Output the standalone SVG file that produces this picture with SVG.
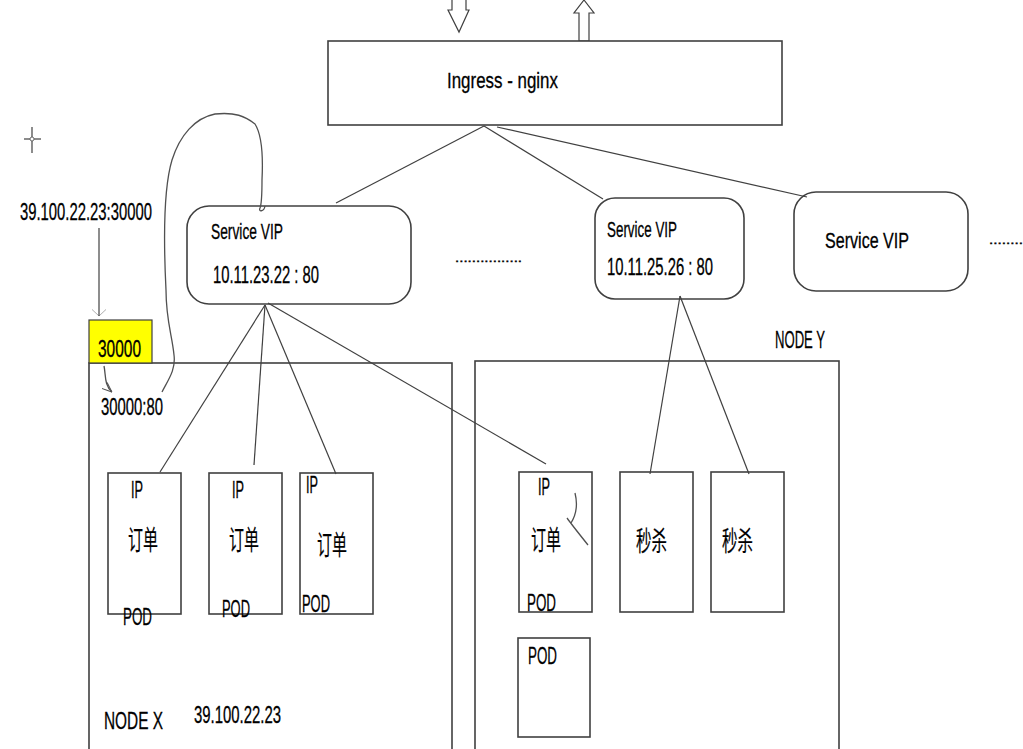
<svg xmlns="http://www.w3.org/2000/svg" width="1023" height="749" viewBox="0 0 1023 749">
<style>
.box{fill:#fff;stroke:#404040;stroke-width:1.6}
.frame{fill:none;stroke:#404040;stroke-width:1.6}
.ln{fill:none;stroke:#404040;stroke-width:1.2}
.hand{fill:none;stroke:#505050;stroke-width:1.3}
text{font-family:"Liberation Sans","Noto Sans CJK SC",sans-serif;font-size:24px;fill:#000;stroke:#000;stroke-width:0.3}
.sm{font-size:22.5px}
.cjk{font-family:"Noto Sans CJK SC",sans-serif;font-size:27px;stroke-width:0.2}
.dot{font-size:12px;stroke-width:0.4}
</style>
<defs>
<marker id="open" viewBox="0 0 10 10" refX="10" refY="5" markerWidth="10" markerHeight="10" orient="auto" markerUnits="userSpaceOnUse">
<path d="M0,1 L10,5 L0,9" fill="none" stroke="#505050" stroke-width="1"/>
</marker>
<marker id="vopen" viewBox="0 0 14 30" refX="14" refY="15" markerWidth="30" markerHeight="14" orient="auto" markerUnits="userSpaceOnUse">
<path d="M0,0 L14,15 L0,30" fill="none" stroke="#505050" stroke-width="1"/>
</marker>
</defs>
<rect width="1023" height="749" fill="#fff"/>

<g id="io-arrows">
<path d="M452,0 L452,10 L448,10 L459,32 L469,10 L466,10 L466,0" fill="#fff" stroke="#404040" stroke-width="1.2"/>
<path d="M579,41 L579,13 L574,13 L584,0 L594,13 L589,13 L589,41 Z" fill="#fff" stroke="#404040" stroke-width="1.2"/>
</g>

<g id="ingress">
<rect class="box" x="328" y="41" width="454" height="84"/>
<text class="sm" x="447" y="88" textLength="111" lengthAdjust="spacingAndGlyphs">Ingress - nginx</text>
</g>

<g id="vip1">
<rect class="box" x="187" y="206" width="224" height="98" rx="22"/>
<text class="sm" x="211" y="239" textLength="72" lengthAdjust="spacingAndGlyphs">Service VIP</text>
<text x="213" y="283" textLength="106" lengthAdjust="spacingAndGlyphs">10.11.23.22 : 80</text>
</g>

<g id="vip2">
<rect class="box" x="595" y="198" width="149" height="101" rx="20"/>
<text class="sm" x="607" y="237" textLength="70" lengthAdjust="spacingAndGlyphs">Service VIP</text>
<text x="607" y="275" textLength="106" lengthAdjust="spacingAndGlyphs">10.11.25.26 : 80</text>
</g>

<g id="vip3">
<rect class="box" x="794" y="192" width="174" height="99" rx="22"/>
<text class="sm" x="825" y="248" textLength="84" lengthAdjust="spacingAndGlyphs">Service VIP</text>
</g>

<g id="dots">
<text class="dot" x="455" y="262" textLength="67" lengthAdjust="spacingAndGlyphs">................</text>
<text class="dot" x="989" y="244" textLength="34" lengthAdjust="spacingAndGlyphs">........</text>
</g>

<g id="crosshair">
<line class="ln" x1="32" y1="127" x2="32" y2="153" stroke-width="0.8"/>
<line class="ln" x1="24" y1="139" x2="41" y2="139" stroke-width="0.8"/>
<circle cx="32" cy="139" r="2" fill="#fff" stroke="#505050" stroke-width="0.8"/>
</g>

<g id="external">
<text x="20" y="220" textLength="132" lengthAdjust="spacingAndGlyphs">39.100.22.23:30000</text>
</g>

<g id="node-x">
<rect class="frame" x="89" y="363" width="363" height="400"/>
<text x="104" y="729" textLength="59" lengthAdjust="spacingAndGlyphs">NODE X</text>
<text x="194" y="723" textLength="87" lengthAdjust="spacingAndGlyphs">39.100.22.23</text>
<text x="101" y="415" textLength="62" lengthAdjust="spacingAndGlyphs">30000:80</text>
</g>

<g id="nodeport">
<rect x="89" y="320" width="63" height="43" fill="#ffff00" stroke="#404040" stroke-width="1.2"/>
<text x="98" y="357" textLength="43" lengthAdjust="spacingAndGlyphs">30000</text>
</g>

<g id="pod-x1">
<rect class="box" x="108" y="473" width="73" height="141"/>
<text x="131" y="498" textLength="12" lengthAdjust="spacingAndGlyphs">IP</text>
<text class="cjk" x="128" y="550" textLength="30" lengthAdjust="spacingAndGlyphs">订单</text>
<text x="123" y="625" textLength="29" lengthAdjust="spacingAndGlyphs">POD</text>
</g>

<g id="pod-x2">
<rect class="box" x="209" y="473" width="73" height="141"/>
<text x="232" y="498" textLength="12" lengthAdjust="spacingAndGlyphs">IP</text>
<text class="cjk" x="229" y="550" textLength="30" lengthAdjust="spacingAndGlyphs">订单</text>
<text x="222" y="617" textLength="28" lengthAdjust="spacingAndGlyphs">POD</text>
</g>

<g id="pod-x3">
<rect class="box" x="300" y="473" width="73" height="141"/>
<text x="306" y="493" textLength="12" lengthAdjust="spacingAndGlyphs">IP</text>
<text class="cjk" x="317" y="555" textLength="30" lengthAdjust="spacingAndGlyphs">订单</text>
<text x="302" y="612" textLength="28" lengthAdjust="spacingAndGlyphs">POD</text>
</g>

<g id="node-y">
<rect class="frame" x="475" y="361" width="364" height="400"/>
<text x="775" y="348" textLength="50" lengthAdjust="spacingAndGlyphs">NODE Y</text>
</g>

<g id="pod-y1">
<rect class="box" x="519" y="472" width="73" height="140"/>
<text x="538" y="495" textLength="12" lengthAdjust="spacingAndGlyphs">IP</text>
<text class="cjk" x="531" y="550" textLength="30" lengthAdjust="spacingAndGlyphs">订单</text>
<text x="527" y="611" textLength="29" lengthAdjust="spacingAndGlyphs">POD</text>
</g>

<g id="pod-y2">
<rect class="box" x="620" y="472" width="73" height="140"/>
<text class="cjk" x="636" y="551" textLength="31" lengthAdjust="spacingAndGlyphs">秒杀</text>
</g>

<g id="pod-y3">
<rect class="box" x="711" y="472" width="73" height="140"/>
<text class="cjk" x="722" y="551" textLength="31" lengthAdjust="spacingAndGlyphs">秒杀</text>
</g>

<g id="pod-y4">
<rect class="box" x="518" y="638" width="72" height="99"/>
<text x="528" y="664" textLength="29" lengthAdjust="spacingAndGlyphs">POD</text>
</g>

<g id="connectors">
<line class="ln" x1="484" y1="126" x2="336" y2="203"/>
<line class="ln" x1="484" y1="126" x2="603" y2="199"/>
<line class="ln" x1="497" y1="127" x2="807" y2="197"/>
<line class="ln" x1="265" y1="305" x2="160" y2="472"/>
<line class="ln" x1="265" y1="305" x2="254" y2="465"/>
<line class="ln" x1="265" y1="305" x2="336" y2="474"/>
<line class="ln" x1="268" y1="303" x2="546" y2="464"/>
<line class="ln" x1="680" y1="296" x2="650" y2="474"/>
<line class="ln" x1="680" y1="296" x2="749" y2="474"/>
<line class="hand" x1="99" y1="228" x2="99" y2="316" marker-end="url(#vopen)"/>
<path class="hand" d="M104,366 C106,375 104,385 112,392" marker-end="url(#open)"/>
<path class="hand" d="M162,392 C168,380 176,370 174,355 C172,335 166,320 166,290 C164,250 163,190 172,160 C180,135 195,118 215,114 C235,112 245,116 255,124 C262,135 263,160 262,180 C262,195 262,203 260,208 C258,212 264,212 265,206"/>
<path class="hand" d="M575,493 C578,505 576,515 571,523 M567,518 C572,525 580,535 588,545"/>
</g>
</svg>
